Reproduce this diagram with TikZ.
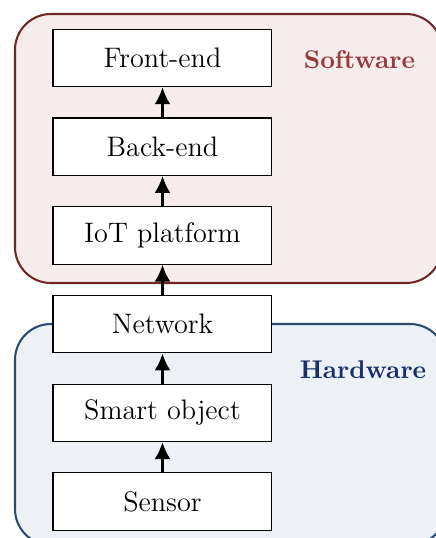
\documentclass[tikz,border=0pt]{standalone}
\usetikzlibrary{positioning,arrows.meta}
\definecolor{swfill}{HTML}{F6ECEC}
\definecolor{swline}{HTML}{6E2626}
\definecolor{swtext}{HTML}{983B3B}
\definecolor{hwfill}{HTML}{EDF1F6}
\definecolor{hwline}{HTML}{2B4A70}
\definecolor{hwtext}{HTML}{16306A}
\begin{document}
\begin{tikzpicture}[x=0.39pt,y=-0.39pt,
        layer/.style={draw,fill=white,thin,minimum width=85.4pt,minimum height=22.4pt,inner sep=0pt,
                font=\fontsize{11}{13}\selectfont},
        up/.style={-{Latex[length=6.6pt,width=6.2pt]},line width=1pt},
        group/.style={line width=0.8pt,rounded corners=14pt},
        node distance=11.8pt]
        \useasboundingbox (0,0) rectangle (436,538);
        \clip (0,0) rectangle (436,538);
        \draw[group,draw=swline,fill=swfill] (15,14) rectangle (442,283);
        \draw[group,draw=hwline,fill=hwfill] (15,324) rectangle (446,545);
        \node[layer] (front) at (162.5,58) {Front-end};
        \node[layer,below=of front] (back) {Back-end};
        \node[layer,below=of back] (iot) {IoT platform};
        \node[layer,below=of iot] (net) {Network};
        \node[layer,below=of net] (smart) {Smart object};
        \node[layer,below=of smart] (sensor) {Sensor};
        \node[font=\bfseries,text=swtext] (sw) at (359.5,60) {Software};
        \node[font=\bfseries,text=hwtext] (hw) at (363,370) {Hardware};
        \draw[up] (back) -- (front);
        \draw[up] (iot) -- (back);
        \draw[up] (net) -- (iot);
        \draw[up] (smart) -- (net);
        \draw[up] (sensor) -- (smart);
\end{tikzpicture}
\end{document}
